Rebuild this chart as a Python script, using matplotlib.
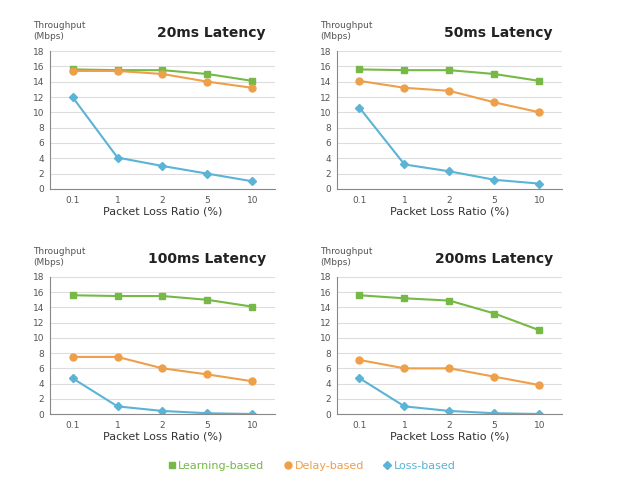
import matplotlib.pyplot as plt
from matplotlib.lines import Line2D

# data
loss_ratio = ['0.1', '1', '2', '5', '10']
titles = ['20ms Latency', '50ms Latency', '100ms Latency', '200ms Latency']

learning = [
    [15.6, 15.5, 15.5, 15.0, 14.1],
    [15.6, 15.5, 15.5, 15.0, 14.1],
    [15.6, 15.5, 15.5, 15.0, 14.1],
    [15.6, 15.2, 14.9, 13.2, 11.0],
]
delay = [
    [15.4, 15.4, 15.0, 14.0, 13.2],
    [14.1, 13.2, 12.8, 11.3, 10.0],
    [7.5, 7.5, 6.0, 5.2, 4.3],
    [7.1, 6.0, 6.0, 4.9, 3.8],
]
loss = [
    [12.0, 4.1, 3.0, 2.0, 1.0],
    [10.6, 3.2, 2.3, 1.2, 0.7],
    [4.7, 1.0, 0.4, 0.1, 0.0],
    [4.7, 1.0, 0.4, 0.1, 0.0],
]
series_names = ['Learning-based', 'Delay-based', 'Loss-based']

green = '#76b947'
orange = '#ee9f4a'
blue = '#5bb3d5'
textgray = '#555555'

plt.rcParams['font.family'] = ['DejaVu Sans']

fig = plt.figure(figsize=(6.22, 4.9), dpi=100)

positions = [
    [0.0804, 0.6143, 0.3617, 0.2816],
    [0.5418, 0.6143, 0.3617, 0.2816],
    [0.0804, 0.1551, 0.3617, 0.2796],
    [0.5418, 0.1551, 0.3617, 0.2796],
]

x = list(range(len(loss_ratio)))

for i, pos in enumerate(positions):
    ax = fig.add_axes(pos)
    ax.plot(x, learning[i], color=green, marker='s', markersize=4.5, linewidth=1.5)
    ax.plot(x, delay[i], color=orange, marker='o', markersize=5, linewidth=1.5)
    ax.plot(x, loss[i], color=blue, marker='D', markersize=4, linewidth=1.5)

    ax.set_xlim(-0.5, 4.5)
    ax.set_ylim(0, 18)
    ax.set_yticks(range(0, 19, 2))
    ax.set_xticks(x)
    ax.set_xticklabels(loss_ratio)
    ax.yaxis.grid(True, color='#dddddd', linewidth=0.8)
    ax.set_axisbelow(True)
    for s in ['top', 'right']:
        ax.spines[s].set_visible(False)
    for s in ['left', 'bottom']:
        ax.spines[s].set_color('#888888')
        ax.spines[s].set_linewidth(0.8)
    ax.tick_params(axis='both', length=0, labelsize=6.5, colors=textgray, pad=4)
    ax.tick_params(axis='x', pad=5)

    ax.set_xlabel('Packet Loss Ratio (%)', fontsize=8, color='#333333', labelpad=1)
    ax.text(-0.075, 1.07, 'Throughput\n(Mbps)', transform=ax.transAxes,
            fontsize=6.5, color=textgray, ha='left', va='bottom', linespacing=1.3)
    ax.text(0.96, 1.13, titles[i], transform=ax.transAxes,
            fontsize=10, fontweight='bold', color='#222222', ha='right', va='center')

# legend at the bottom
handles = [
    Line2D([], [], color=green, marker='s', linestyle='none', markersize=5),
    Line2D([], [], color=orange, marker='o', linestyle='none', markersize=5),
    Line2D([], [], color=blue, marker='D', linestyle='none', markersize=4),
]
leg = fig.legend(handles, series_names, loc='center', bbox_to_anchor=(0.5, 0.049),
                 ncol=3, frameon=False, fontsize=8, handletextpad=0.1,
                 columnspacing=1.6, handlelength=1.0)
for t, c in zip(leg.get_texts(), [green, orange, blue]):
    t.set_color(c)

fig.savefig('out.png', dpi=100)
